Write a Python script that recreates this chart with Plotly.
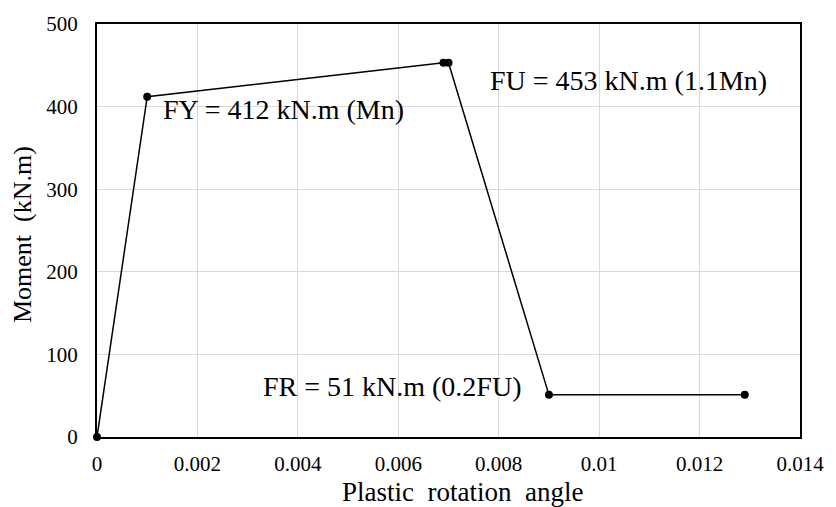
import plotly.graph_objects as go

# Plastic hinge backbone (moment vs plastic rotation)
rotation = [0.0, 0.001, 0.0069, 0.007, 0.009, 0.0129]
moment = [0, 412, 453, 453, 51, 51]

x_ticks = [0, 0.002, 0.004, 0.006, 0.008, 0.01, 0.012, 0.014]
x_tick_text = ["0", "0.002", "0.004", "0.006", "0.008", "0.01", "0.012", "0.014"]
y_ticks = [0, 100, 200, 300, 400, 500]

labels = ["FY = 412 kN.m (Mn)", "FU = 453 kN.m (1.1Mn)", "FR = 51 kN.m (0.2FU)"]
x_title = "Plastic  rotation  angle"
y_title = "Moment  (kN.m)"

FONT = "Liberation Serif"
label_font = dict(family=FONT, size=28, color="black")
title_font = dict(family=FONT, size=27, color="black")

fig = go.Figure()
fig.add_trace(go.Scatter(
    x=rotation, y=moment, mode="lines+markers",
    line=dict(color="black", width=1.5),
    marker=dict(color="black", size=8),
    cliponaxis=False, showlegend=False,
))

# Labels: yield, ultimate, residual
fig.add_annotation(x=0.00128, y=397, text=labels[0], showarrow=False,
                   xanchor="left", yanchor="middle", font=label_font)
fig.add_annotation(x=0.00778, y=432, text=labels[1], showarrow=False,
                   xanchor="left", yanchor="middle", font=label_font)
fig.add_annotation(x=0.00849, y=61, text=labels[2], showarrow=False,
                   xanchor="right", yanchor="middle", font=label_font)

# Axis titles
fig.add_annotation(xref="paper", yref="paper", x=0.5205, y=-0.1340,
                   text=x_title, showarrow=False,
                   xanchor="center", yanchor="middle", font=title_font)
fig.add_annotation(xref="paper", yref="paper", x=-0.1058, y=0.4905,
                   text=y_title, showarrow=False, textangle=-90,
                   xanchor="center", yanchor="middle",
                   font=dict(family=FONT, size=26, color="black"))

fig.update_layout(
    width=836, height=507,
    margin=dict(l=97, r=30, t=15, b=70),
    paper_bgcolor="white", plot_bgcolor="white",
    font=dict(family=FONT, color="black", size=21),
    xaxis=dict(
        range=[0, 0.014], tickvals=x_ticks, ticktext=x_tick_text,
        tickfont=dict(family=FONT, size=21),
        showgrid=True, gridcolor="#d9d9d9", gridwidth=1,
        showline=True, linecolor="black", linewidth=2, mirror=True,
        zeroline=False, ticks="outside", ticklen=7, tickcolor="rgba(0,0,0,0)",
    ),
    yaxis=dict(
        range=[0, 500], tickvals=y_ticks,
        tickfont=dict(family=FONT, size=21),
        showgrid=True, gridcolor="#d9d9d9", gridwidth=1,
        showline=True, linecolor="black", linewidth=2, mirror=True,
        zeroline=False, ticks="outside", ticklen=13, tickcolor="rgba(0,0,0,0)",
    ),
)

fig.write_html("out.html")
